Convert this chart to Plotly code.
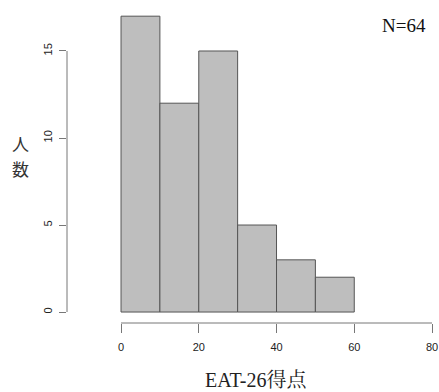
import plotly.graph_objects as go

bin_edges = [0, 10, 20, 30, 40, 50, 60]
counts = [17, 12, 15, 5, 3, 2]
x_ticks = [0, 20, 40, 60, 80]
y_ticks = [0, 5, 10, 15]
x_title = "EAT-26得点"
y_title_chars = ["人", "数"]
n_label = "N=64"

mids = [(a + b) / 2 for a, b in zip(bin_edges[:-1], bin_edges[1:])]
widths = [b - a for a, b in zip(bin_edges[:-1], bin_edges[1:])]

fig = go.Figure(go.Bar(
    x=mids, y=counts, width=widths,
    marker=dict(color="#bebebe", line=dict(color="#555555", width=1)),
    hoverinfo="skip",
))

tickfont = dict(family="Liberation Sans, Arial, sans-serif", size=11, color="#222222")
serif = "Liberation Serif, Times New Roman, Noto Serif CJK JP, Noto Sans CJK JP, serif"

annotations = [
    dict(text=x_title, xref="paper", yref="paper", x=(256 - 67) / 365, y=-57 / 323,
         showarrow=False, font=dict(family=serif, size=20, color="#222222"),
         xanchor="center", yanchor="middle"),
    dict(text=n_label, xref="paper", yref="paper", x=(404 - 67) / 365, y=(323 - 25) / 323,
         showarrow=False, font=dict(family=serif, size=19, color="#111111"),
         xanchor="center", yanchor="middle"),
]
for i, ch in enumerate(y_title_chars):
    annotations.append(dict(
        text=ch, xref="paper", yref="paper", x=(20 - 67) / 365, y=(323 - (143 + 25 * i)) / 323,
        showarrow=False, font=dict(family="Noto Sans CJK JP, sans-serif", size=17, color="#333333"),
        xanchor="center", yanchor="middle"))

fig.update_layout(
    width=439, height=392,
    margin=dict(l=67, r=7, t=0, b=69),
    paper_bgcolor="white", plot_bgcolor="white",
    showlegend=False,
    xaxis=dict(range=[-13.9, 80], tickvals=x_ticks, ticks="outside", ticklen=9,
               tickcolor="#777777", tickwidth=1, showline=False, showgrid=False,
               zeroline=False, tickfont=tickfont, ticklabelstandoff=5),
    yaxis=dict(range=[-0.63, 17.93], tickvals=y_ticks, ticks="outside", ticklen=7,
               tickcolor="#777777", tickwidth=1, showline=False, showgrid=False,
               zeroline=False, tickfont=tickfont, tickangle=-90, ticklabelstandoff=3),
    shapes=[
        dict(type="line", xref="x", yref="paper", x0=0, x1=80, y0=0, y1=0,
             line=dict(color="#777777", width=1)),
        dict(type="line", xref="paper", yref="y", x0=0, x1=0, y0=0, y1=15,
             line=dict(color="#777777", width=1)),
    ],
    annotations=annotations,
)

fig.write_html("out.html")
